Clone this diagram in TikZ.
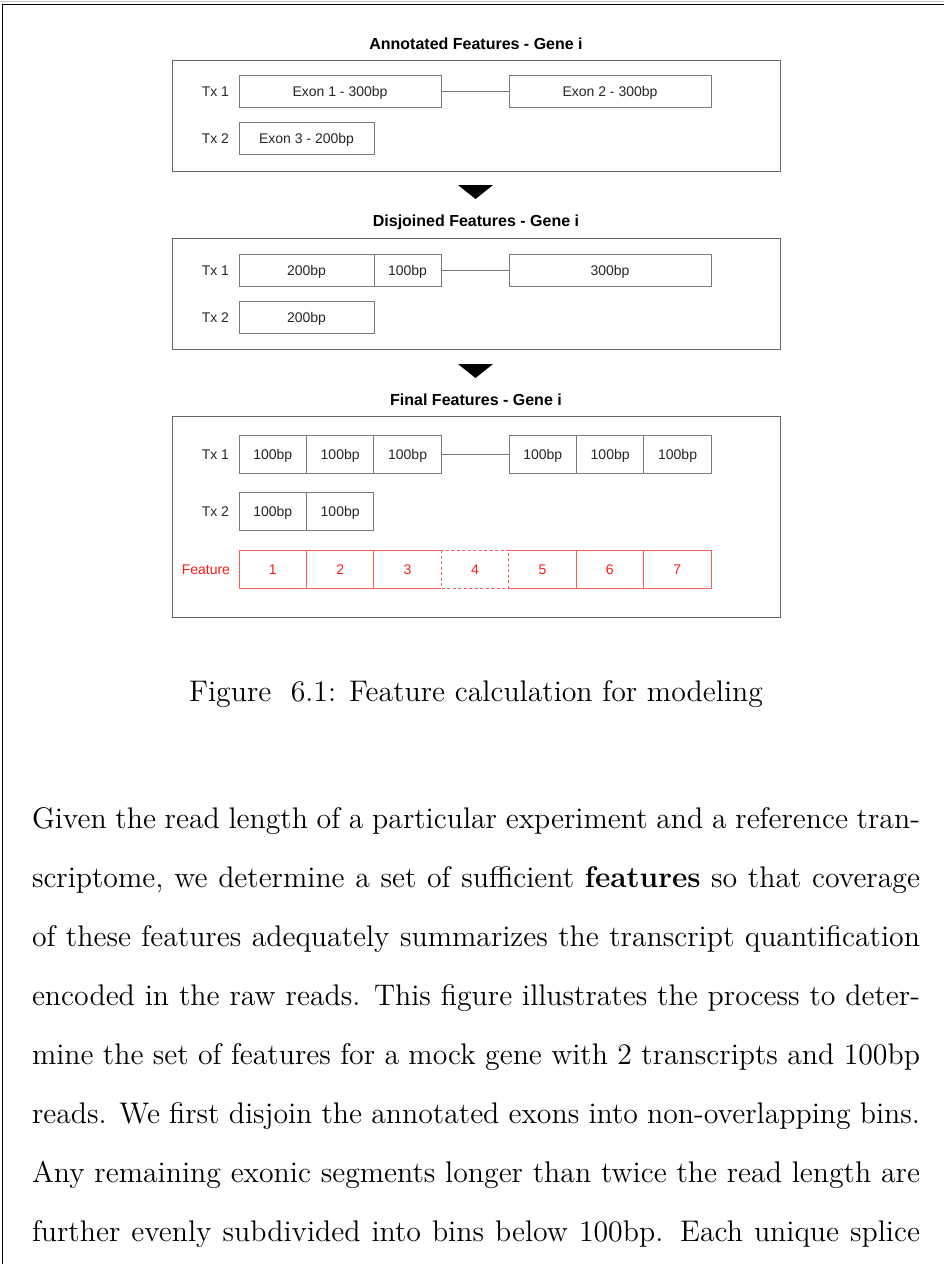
\documentclass[tikz,border=0pt]{standalone}
\usepackage{fontspec}
\newfontfamily\arialfont{Liberation Sans}
\newfontfamily\bodyfont{lmroman12-regular.otf}[BoldFont=lmroman12-bold.otf]
\usetikzlibrary{positioning}
\definecolor{boxgray}{HTML}{7A7A7A}
\definecolor{featred}{HTML}{FF1A1A}
\definecolor{featline}{HTML}{FF5A5A}

\begin{document}
\begin{tikzpicture}[x=1pt, y=-1pt,
  every node/.style={inner sep=0pt, outer sep=0pt},
  small/.style={font=\arialfont\fontsize{14}{16}\selectfont, text=black!85},
  title/.style={font=\arialfont\bfseries\fontsize{16}{18}\selectfont},
  panel/.style={draw=black!60, line width=0.8pt},
  exon/.style={small, draw=boxgray, line width=0.8pt, minimum height=32pt,
    text height=10pt, text depth=0pt, anchor=west},
  bin/.style={exon, minimum height=38pt, minimum width=67.43pt},
  feat/.style={small, text=featred, minimum height=38pt, minimum width=67.43pt,
    text height=10pt, text depth=0pt, anchor=west},
  txlabel/.style={small, anchor=east, text height=10pt, text depth=0pt},
  intron/.style={draw=boxgray, line width=0.8pt},
  featbox/.style={draw=featline, line width=0.8pt},
  pointer/.style={fill=black}]
  \useasboundingbox (0,0) rectangle (944,1264);
  % page edge
  \draw[black!25, line width=1pt] (0,1.5) -- (944,1.5);
  \draw[line width=1.3pt] (2.5,1264) -- (2.5,4.5) -- (944,4.5);

  % annotated
  \node[title] (t1) at (476,44) {Annotated Features - Gene i};
  \draw[panel] (172,60) rectangle (780,171);
  \node[txlabel] (a1) at (229,91) {Tx 1};
  \node[exon, minimum width=202pt] (ex1) at (239,91) {Exon 1 - 300bp};
  \node[exon, minimum width=202pt] (ex2) at (509,91) {Exon 2 - 300bp};
  \draw[intron] (ex1) -- (ex2);
  \node[txlabel] (a2) at (229,138) {Tx 2};
  \node[exon, minimum width=135pt] (ex3) at (239,138) {Exon 3 - 200bp};
  \fill[pointer] (458,185) -- (493,185) -- (475.5,199) -- cycle;

  % disjoined
  \node[title] (t2) at (476,222) {Disjoined Features - Gene i};
  \draw[panel] (172,238) rectangle (780,349);
  \node[txlabel] (b1) at (229,270) {Tx 1};
  \node[exon, minimum width=135pt] (d1) at (239,270) {200bp};
  \node[exon, minimum width=67pt] (d2) at (374,270) {100bp};
  \node[exon, minimum width=202pt] (d3) at (509,270) {300bp};
  \draw[intron] (d2) -- (d3);
  \node[txlabel] (b2) at (229,317) {Tx 2};
  \node[exon, minimum width=135pt] (d4) at (239,317) {200bp};
  \fill[pointer] (458,364) -- (493,364) -- (475.5,378) -- cycle;

  % final
  \node[title] (t3) at (476,400) {Final Features - Gene i};
  \draw[panel] (172,416) rectangle (780,617);
  \node[txlabel] (c1) at (229,454) {Tx 1};
  \foreach \i/\x in {1/239,2/306.43,3/373.86,4/509,5/576.43,6/643.86}
    \node[bin] (s\i) at (\x,454) {100bp};
  \draw[intron] (s3) -- (s4);
  \node[txlabel] (c2) at (229,511) {Tx 2};
  \node[bin] (u1) at (239,511) {100bp};
  \node[bin] (u2) at (306.43,511) {100bp};
  \node[txlabel, text=featred] (fl) at (230,569) {Feature};
  \foreach \i in {1,...,7}
    \node[feat] (f\i) at ({239+67.43*(\i-1)},569) {\i};
  \draw[featbox] (f3.north east) -- (f1.north west) -- (f1.south west) -- (f3.south east);
  \draw[featbox] (f1.north east) -- (f1.south east) (f2.north east) -- (f2.south east);
  \draw[featbox, dash pattern=on 3pt off 2.5pt] (f4.north west) rectangle (f4.south east);
  \draw[featbox] (f5.north west) -- (f7.north east) -- (f7.south east) -- (f5.south west);
  \draw[featbox] (f5.north east) -- (f5.south east) (f6.north east) -- (f6.south east);

  % caption and text
  \node[font=\bodyfont\fontsize{29.8}{35}\selectfont, anchor=base] (cap) at (476,701)
    {Figure\ \ 6.1: Feature calculation for modeling};
  \node[font=\bodyfont\fontsize{29.8}{59}\selectfont, text width=888pt, align=justify,
    anchor=base west] (body) at (32,828)
    {\parfillskip=0pt Given the read length of a particular experiment and a reference tran-\linebreak
    scriptome, we determine a set of sufficient \textbf{features} so that coverage\linebreak
    of these features adequately summarizes the transcript quantification\linebreak
    encoded in the raw reads. This figure illustrates the process to deter-\linebreak
    mine the set of features for a mock gene with 2 transcripts and 100bp\linebreak
    reads. We first disjoin the annotated exons into non-overlapping bins.\linebreak
    Any remaining exonic segments longer than twice the read length are\linebreak
    further evenly subdivided into bins below 100bp. Each unique splice\par};
\end{tikzpicture}
\end{document}
